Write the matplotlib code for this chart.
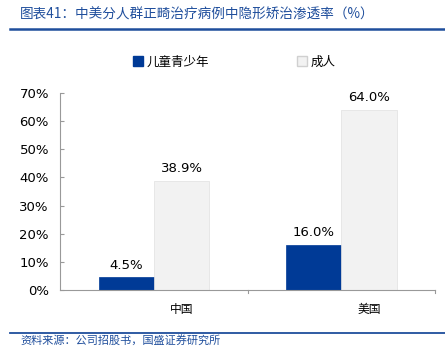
import matplotlib
matplotlib.use("Agg")
import matplotlib.pyplot as plt
from matplotlib.lines import Line2D
from matplotlib.patches import Patch
import numpy as np

plt.rcParams["font.family"] = ["Noto Sans CJK SC", "DejaVu Sans"]
plt.rcParams["axes.unicode_minus"] = False

categories = ["中国", "美国"]
series_names = ["儿童青少年", "成人"]
kids = [4.5, 16.0]
adults = [38.9, 64.0]
yticks = [0, 10, 20, 30, 40, 50, 60, 70]

BLUE = "#003A96"
GREY = "#F2F2F2"
TITLE_BLUE = "#1F4E9C"

fig = plt.figure(figsize=(4.45, 3.59), dpi=100)
ax = fig.add_axes([0.135, 0.192, 0.843, 0.549])

x = np.arange(len(categories))
w = 0.295
ax.bar(x - w / 2, kids, w, color=BLUE, edgecolor=BLUE, lw=0.5)
ax.bar(x + w / 2, adults, w, color=GREY, edgecolor="#E0E0E0", lw=0.5)

for xi, v in zip(x - w / 2, kids):
    ax.text(xi, v + 2, f"{v:.1f}%", ha="center", va="bottom", fontsize=9.5,
            family=["DejaVu Sans"])
for xi, v in zip(x + w / 2, adults):
    ax.text(xi, v + 2, f"{v:.1f}%", ha="center", va="bottom", fontsize=9.5,
            family=["DejaVu Sans"])

ax.set_xlim(-0.5, 1.5)
ax.set_ylim(0, 70)
ax.set_yticks(yticks)
ax.set_yticklabels([f"{t}%" for t in yticks], fontsize=9.5, family=["DejaVu Sans"])
ax.set_xticks(x + w / 2)
ax.set_xticklabels(categories, fontsize=8.5)
ax.tick_params(axis="x", length=0, pad=9)
ax.tick_params(axis="y", length=3, direction="in", color="#999999", pad=8)
for s in ["top", "right"]:
    ax.spines[s].set_visible(False)
ax.spines["left"].set_color("#999999")
ax.spines["bottom"].set_color("#999999")
# category separators on x axis
for b in [0.5, 1.5]:
    ax.plot([b, b], [0, -1.2], color="#999999", lw=0.8, clip_on=False)

handles = [Patch(facecolor=BLUE, edgecolor=BLUE),
           Patch(facecolor=GREY, edgecolor="#D0D0D0")]
fig.legend(handles, series_names, loc="center", ncol=2,
           bbox_to_anchor=(0.526, 0.827), frameon=False, fontsize=9,
           handlelength=0.8, handleheight=0.8, handletextpad=0.3,
           columnspacing=7)

fig.text(0.045, 0.96, "图表41：中美分人群正畸治疗病例中隐形矫治渗透率（%）",
         color=TITLE_BLUE, fontsize=9.8, va="center", style="italic")
fig.add_artist(Line2D([0.022, 1.0], [0.918, 0.918], color=TITLE_BLUE, lw=1.8))
fig.add_artist(Line2D([0.022, 1.0], [0.072, 0.072], color=TITLE_BLUE, lw=1.3))
fig.text(0.045, 0.052, "资料来源：公司招股书，国盛证券研究所", color=TITLE_BLUE,
         fontsize=8, va="center", style="italic")

fig.savefig("out.png", dpi=100)
